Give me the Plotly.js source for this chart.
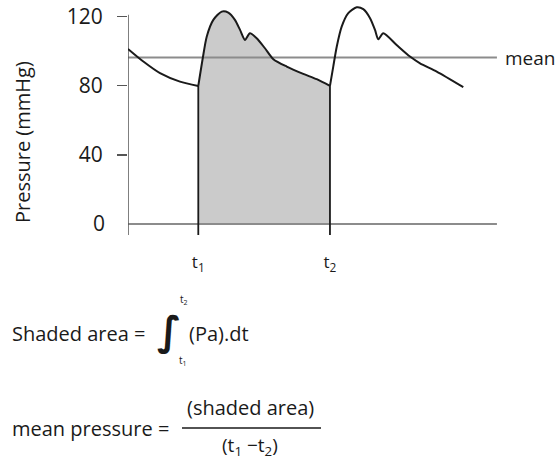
<!DOCTYPE html>
<html><head><meta charset="utf-8">
<script src="https://cdn.plot.ly/plotly-3.0.1.min.js"></script>
<style>body{margin:0;background:#fff}#chart{width:556px;height:459px}</style>
</head><body><div id="chart"></div>
<script>
// ---- data (time in ms, pressure in mmHg) ----
const declineT = [0, 93, 194, 315, 426];
const declineP = [101.2, 93.9, 87.2, 82.3, 79.8];
const beat1T = [426, 453, 477, 517, 568, 608, 648, 679, 709, 739, 780, 830, 881, 962, 1062, 1144, 1224];
const beat1P = [79.8, 95.8, 108.3, 118.0, 122.8, 122.2, 118.0, 112.2, 106.4, 110.3, 107.4, 101.6, 95.3, 91.0, 86.8, 83.7, 79.8];
const beat2T = [1224, 1244, 1265, 1295, 1335, 1386, 1426, 1467, 1497, 1517, 1547, 1628, 1709, 1770, 1871, 2032];
const beat2P = [79.8, 91.0, 102.5, 114.1, 121.9, 125.3, 124.2, 119.0, 112.2, 106.8, 110.3, 103.5, 96.8, 92.9, 88.1, 79.1];
const meanP = 96.2;
const tStart = 0, tEnd = 2236;
const t1 = 426, t2 = 1224;
const yTicks = [40, 80, 120];
const yZeroTick = [0];
const xTickVals = [t1, t2];
const xTickText = ['t<sub>1</sub>', 't<sub>2</sub>'];
const yAxisTop = 120.9;

// ---- layout helpers ----
const W = 556, H = 459, ML = 128, MR = 56, MT = 0, MB = 224;
const PW = W - ML - MR, PH = H - MT - MB;
const yMin = -6.4, yMax = 129.5;
const px = x => (x - ML) / PW;
const py = y => (H - MB - y) / PH;
const FONT = 'Open Sans, sans-serif';
const black = '#1a1a1a', gray = '#8c8c8c';
const SM = 0.7;

const traces = [
  {x: beat1T, y: beat1P, mode: 'lines', line: {width: 0, shape: 'spline', smoothing: SM}, fill: 'tozeroy', fillcolor: '#cbcbcb', hoverinfo: 'skip'},
  {x: [tStart, tEnd], y: [0, 0], mode: 'lines', line: {color: gray, width: 2}},
  {x: [tStart, tEnd], y: [meanP, meanP], mode: 'lines', line: {color: gray, width: 2}},
  {x: [tStart, tStart], y: [yMin, yAxisTop], mode: 'lines', line: {color: '#555', width: 1.5}},
  {x: [t1, t1], y: [yMin, beat1P[0]], mode: 'lines', line: {color: black, width: 1.8}},
  {x: [t2, t2], y: [yMin, beat2P[0]], mode: 'lines', line: {color: black, width: 1.8}},
  {x: declineT, y: declineP, mode: 'lines', line: {color: black, width: 2, shape: 'spline', smoothing: SM}},
  {x: beat1T, y: beat1P, mode: 'lines', line: {color: black, width: 2, shape: 'spline', smoothing: SM}},
  {x: beat2T, y: beat2P, mode: 'lines', line: {color: black, width: 2, shape: 'spline', smoothing: SM}},
  {x: [], y: [], yaxis: 'y2', mode: 'lines'}
];

const ann = (x, y, text, size, extra) => Object.assign({xref: 'paper', yref: 'paper', x: px(x), y: py(y), text: text, showarrow: false, font: {family: FONT, size: size, color: black}, xanchor: 'left', yanchor: 'middle'}, extra || {});

const annotations = [
  {xref: 'x', yref: 'y', x: tEnd, y: meanP, xshift: 6, text: 'mean', showarrow: false, xanchor: 'left', yanchor: 'middle', font: {family: FONT, size: 19, color: black}},
  ann(22, 142, 'Pressure (mmHg)', 20, {textangle: -90, xanchor: 'center'}),
  ann(10, 333, 'Shaded area =', 20),
  ann(169, 331, '\u222B', 40, {xanchor: 'center', font: {family: 'DejaVu Sans', size: 40, color: black, weight: 'bold'}}),
  ann(178, 299, 't<sub>2</sub>', 10),
  ann(177, 360, 't<sub>1</sub>', 10),
  ann(187, 333, '(Pa).dt', 20),
  ann(10, 428, 'mean pressure =', 20),
  ann(250, 407, '(shaded area)', 20, {xanchor: 'center'}),
  ann(250, 446, '(t<sub>1</sub> \u2212t<sub>2</sub>)', 19, {xanchor: 'center'})
];

const shapes = [
  {type: 'line', xref: 'paper', yref: 'paper', x0: px(182), x1: px(321), y0: py(428), y1: py(428), line: {color: black, width: 1.5}}
];

const yTickFont = {family: FONT, size: 21, color: black};
const layout = {
  width: W, height: H,
  margin: {l: ML, r: MR, t: MT, b: MB, pad: 0},
  paper_bgcolor: '#fff', plot_bgcolor: 'rgba(0,0,0,0)',
  showlegend: false,
  xaxis: {range: [0, PW / 0.165], showgrid: false, zeroline: false, showline: false, ticks: '', tickvals: xTickVals, ticktext: xTickText, ticklabelstandoff: 15, tickfont: {family: FONT, size: 17, color: black}},
  yaxis: {range: [yMin, yMax], showgrid: false, zeroline: false, showline: false, ticks: 'outside', ticklen: 10, tickwidth: 1.5, tickcolor: '#555', tickvals: yTicks, ticklabelstandoff: 10, tickfont: yTickFont},
  yaxis2: {range: [yMin, yMax], overlaying: 'y', side: 'left', anchor: 'x', showgrid: false, zeroline: false, showline: false, ticks: '', tickvals: yZeroTick, ticklabelstandoff: 22, tickfont: yTickFont},
  annotations: annotations,
  shapes: shapes
};

Plotly.newPlot('chart', traces, layout, {staticPlot: true, displayModeBar: false});
</script>
</body></html>
